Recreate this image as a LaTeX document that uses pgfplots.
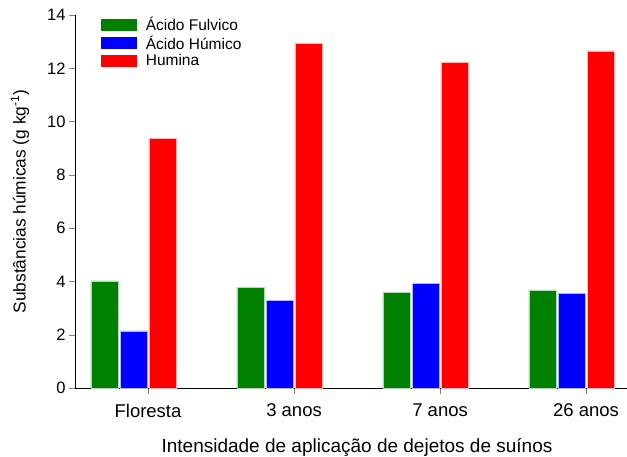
\documentclass[border=0pt]{standalone}
\usepackage{pgfplots}
\pgfplotsset{compat=1.18}
\usepackage{fontspec}
\setmainfont{Liberation Sans}
\definecolor{cg}{RGB}{0,128,0}
\definecolor{cb}{RGB}{0,0,255}
\definecolor{cr}{RGB}{255,0,0}
\begin{document}
\begin{tikzpicture}
\begin{axis}[
  scale only axis,
  width=552pt, height=373pt,
  xmin=-0.5, xmax=3.28,
  ymin=0, ymax=14,
  axis x line*=bottom, axis y line*=left,
  tick align=outside,
  major tick length=6pt,
  ytick={0,2,...,14},
  xtick={0,1,2,3},
  xticklabels={Floresta,3 anos,7 anos,26 anos},
  /pgf/number format/assume math mode=true,
  yticklabel style={font=\fontsize{16.5}{19}\selectfont},
  xticklabel style={font=\fontsize{18.5}{21}\selectfont, yshift=-6.5pt},
  xlabel={Intensidade de aplicação de dejetos de suínos},
  ylabel={Substâncias húmicas (g kg\textsuperscript{-1})},
  xlabel style={font=\fontsize{19}{22}\selectfont, at={(axis description cs:0.5,0)}, anchor=center, yshift=-60pt, xshift=6pt},
  ylabel style={font=\fontsize{17.3}{20}\selectfont, at={(axis description cs:0,0.5)}, anchor=center, yshift=55pt},
  ybar,
  bar width=0.1875,
  legend style={draw=none, at={(0.041,1.005)}, anchor=north west, font=\fontsize{15.5}{18}\selectfont, row sep=-0.3pt, fill=none},
  legend cell align=left,
  legend image code/.code={\fill[#1, draw=none] (0pt,-6pt) rectangle (36pt,6pt); \path[draw=none, fill=none] (0pt,0pt) rectangle (43pt,0.01pt);},
]
\addplot[fill=cg, draw=white!70!cg, line width=0.6pt, bar shift=-0.298] coordinates {(0,4.02) (1,3.78) (2,3.58) (3,3.67)};
\addplot[fill=cb, draw=white!70!cb, line width=0.6pt, bar shift=-0.098] coordinates {(0,2.14) (1,3.30) (2,3.92) (3,3.55)};
\addplot[fill=cr, draw=white!70!cr, line width=0.6pt, bar shift=0.10] coordinates {(0,9.38) (1,12.94) (2,12.22) (3,12.65)};
\legend{Ácido Fulvico, Ácido Húmico, Humina}
\end{axis}
\pgfresetboundingbox
\path (current axis.south west) ++(-75pt,-68pt) coordinate (bl);
\path (current axis.north east) ++(0pt,15pt) coordinate (tr);
\path[use as bounding box] (bl) rectangle (tr);
\end{tikzpicture}
\end{document}
